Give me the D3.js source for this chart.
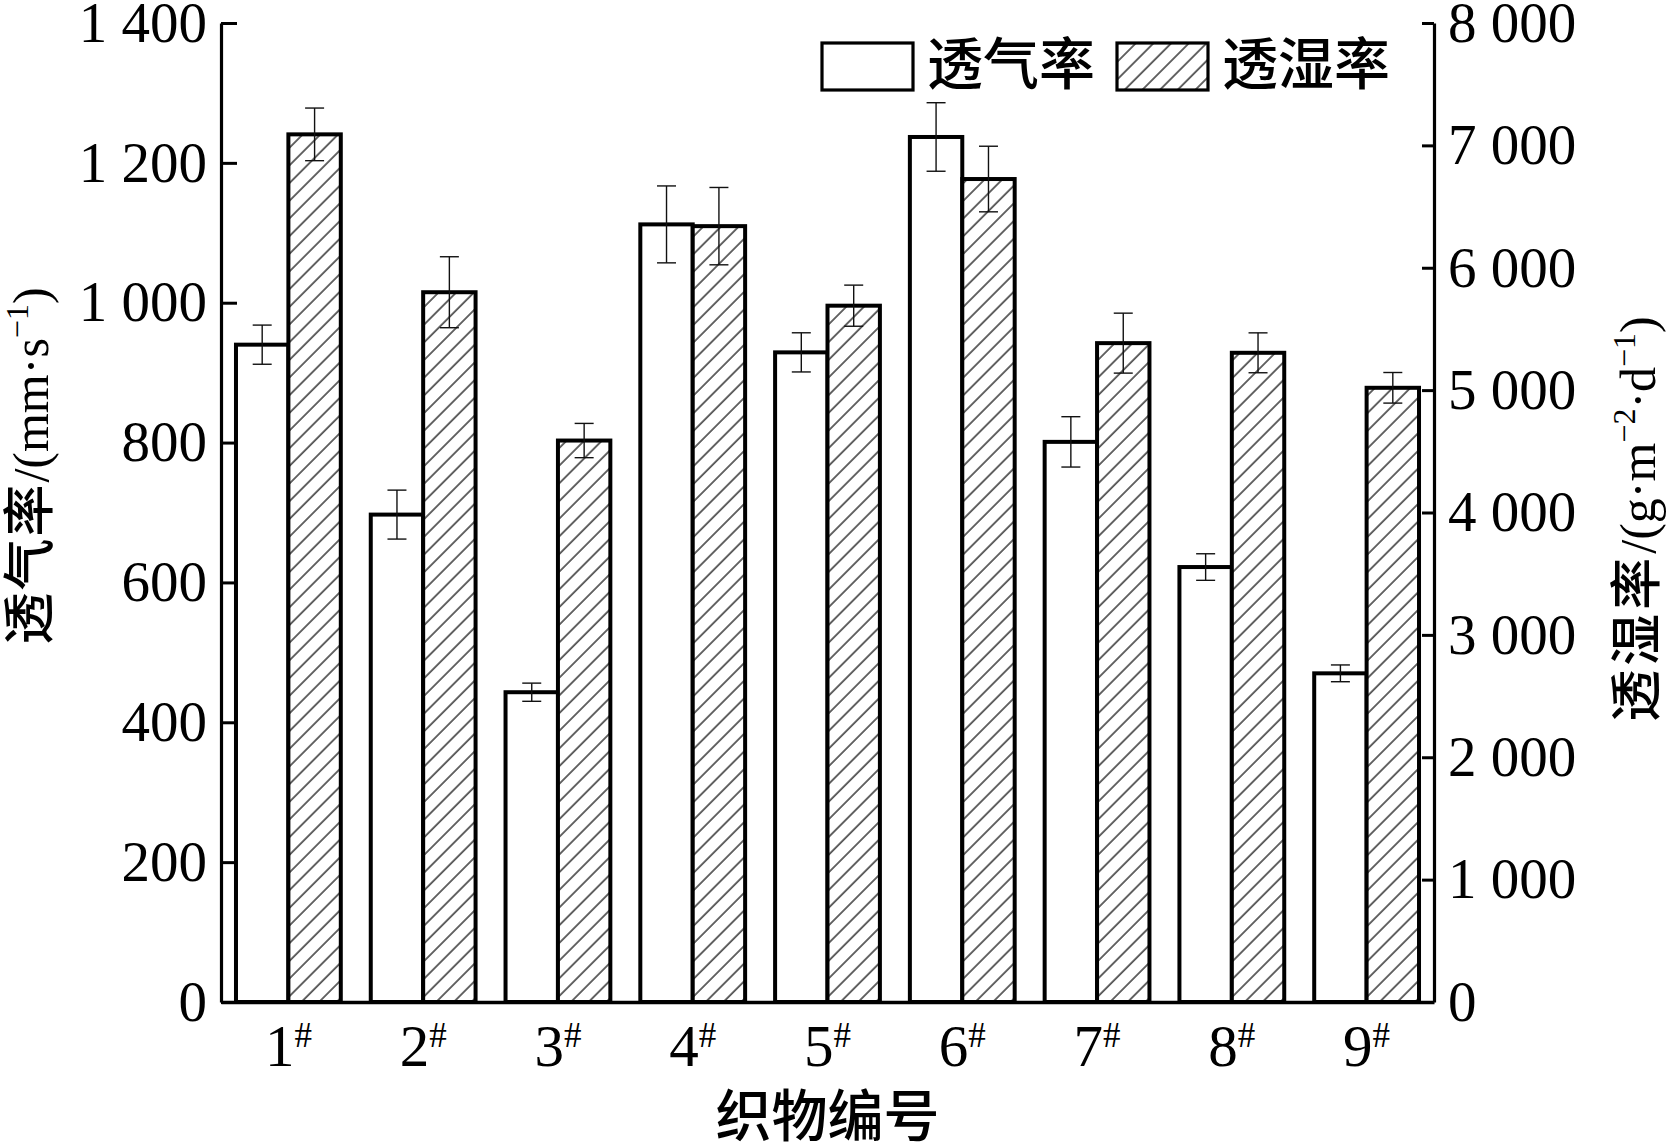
<!DOCTYPE html>
<html>
  <head>
    <meta charset="utf-8">
    <title>透气率与透湿率</title>
    <script src="https://d3js.org/d3.v7.min.js"></script>
    <style>
      body { margin: 0; background: #fff; }
      .num { font-family: "Liberation Serif", "Times New Roman", serif; }
      .cjk { font-family: "Noto Sans CJK SC", sans-serif; font-weight: 500; }
    </style>
  </head>
  <body>
    <div id="chart"></div>
    <script>
      var fabrics = ["1", "2", "3", "4", "5", "6", "7", "8", "9"];
      var airPerm = [940, 697, 443, 1112, 929, 1237, 801, 622, 470];      // mm/s
      var airErr = [28, 35, 13, 55, 28, 49, 36, 19, 12];
      var moistPerm = [7090, 5800, 4588, 6340, 5690, 6725, 5384, 5305, 5019]; // g/(m2·d)
      var moistErr = [215, 290, 140, 316, 168, 268, 245, 163, 125];
      var leftTicks = [0, 200, 400, 600, 800, 1000, 1200, 1400];
      var rightTicks = [0, 1000, 2000, 3000, 4000, 5000, 6000, 7000, 8000];
      var seriesNames = ["透气率", "透湿率"];

      var W = 1668, H = 1144;
      var margin = { top: 23, right: 234, bottom: 142, left: 221 },
          width = W - margin.left - margin.right,
          height = H - margin.top - margin.bottom;

      var svg = d3.select("#chart")
                  .append("svg")
                  .attr("width", W)
                  .attr("height", H);

      // diagonal hatch for the moisture bars
      var pat = svg.append("defs").append("pattern")
         .attr("id", "hatch")
         .attr("patternUnits", "userSpaceOnUse")
         .attr("width", 12.5)
         .attr("height", 12.5)
         .attr("patternTransform", "rotate(45)");
      pat.append("rect").attr("width", 12.5).attr("height", 12.5).attr("fill", "#fff");
      pat.append("line")
         .attr("x1", 1).attr("y1", 0).attr("x2", 1).attr("y2", 12.5)
         .attr("stroke", "#000").attr("stroke-width", 1.2);

      var g = svg.append("g")
                 .attr("transform", "translate(" + margin.left + "," + margin.top + ")");

      // scales
      var x0 = d3.scaleBand()
                 .domain(fabrics)
                 .range([0, width])
                 .paddingInner(0.2224)
                 .paddingOuter(0.1112);
      var x1 = d3.scaleBand()
                 .domain(seriesNames)
                 .range([0, x0.bandwidth()]);
      var yL = d3.scaleLinear().domain([0, 1400]).range([height, 0]);
      var yR = d3.scaleLinear().domain([0, 8000]).range([height, 0]);

      var fmt = function(d) { return d >= 1000 ? d3.format(",")(d).replace(",", " ") : String(d); };

      var rows = fabrics.map(function(f, i) {
        return [
          { fab: f, key: seriesNames[0], v: airPerm[i], e: airErr[i], y: yL },
          { fab: f, key: seriesNames[1], v: moistPerm[i], e: moistErr[i], y: yR }
        ];
      });

      // bars
      var grp = g.selectAll(".grp")
         .data(rows)
         .enter().append("g")
         .attr("class", "grp")
         .attr("transform", function(d) { return "translate(" + x0(d[0].fab) + ",0)"; });

      grp.selectAll("rect")
         .data(function(d) { return d; })
         .enter().append("rect")
         .attr("x", function(d) { return x1(d.key); })
         .attr("width", x1.bandwidth())
         .attr("y", function(d) { return d.y(d.v); })
         .attr("height", function(d) { return height - d.y(d.v); })
         .attr("fill", function(d) { return d.key === seriesNames[0] ? "#fff" : "url(#hatch)"; })
         .attr("stroke", "#000")
         .attr("stroke-width", 4);

      // error bars
      var eb = grp.selectAll(".err")
         .data(function(d) { return d; })
         .enter().append("g")
         .attr("class", "err")
         .attr("stroke", "#111")
         .attr("stroke-width", 1.4);
      var cx = function(d) { return x1(d.key) + x1.bandwidth() / 2; };
      eb.append("line")
        .attr("x1", cx).attr("x2", cx)
        .attr("y1", function(d) { return d.y(d.v + d.e); })
        .attr("y2", function(d) { return d.y(d.v - d.e); });
      eb.append("line")
        .attr("x1", function(d) { return cx(d) - 9.5; })
        .attr("x2", function(d) { return cx(d) + 9.5; })
        .attr("y1", function(d) { return d.y(d.v + d.e); })
        .attr("y2", function(d) { return d.y(d.v + d.e); });
      eb.append("line")
        .attr("x1", function(d) { return cx(d) - 9.5; })
        .attr("x2", function(d) { return cx(d) + 9.5; })
        .attr("y1", function(d) { return d.y(d.v - d.e); })
        .attr("y2", function(d) { return d.y(d.v - d.e); });

      // left axis
      var axL = g.append("g")
         .call(d3.axisLeft(yL).tickValues(leftTicks).tickFormat(fmt)
                 .tickSizeInner(-16).tickSizeOuter(0).tickPadding(14));
      // right axis
      var axR = g.append("g")
         .attr("transform", "translate(" + width + ",0)")
         .call(d3.axisRight(yR).tickValues(rightTicks).tickFormat(fmt)
                 .tickSizeInner(-12).tickSizeOuter(0).tickPadding(14));
      // bottom axis
      var axB = g.append("g")
         .attr("transform", "translate(0," + height + ")")
         .call(d3.axisBottom(x0).tickSize(0).tickSizeOuter(0));

      [axL, axR, axB].forEach(function(a) {
        a.select(".domain").attr("stroke-width", 3.2);
        a.selectAll(".tick line").attr("stroke-width", 3);
        a.selectAll("text")
         .attr("class", "num")
         .style("font-size", "57px")
         .attr("fill", "#000");
      });
      axB.select(".domain").attr("stroke-width", 3.6);

      // x tick labels with superscript #
      axB.selectAll(".tick text")
         .attr("y", 64)
         .attr("dy", 0)
         .style("font-size", "59px")
         .text(null)
         .each(function(d) {
           var t = d3.select(this);
           t.append("tspan").text(d);
           t.append("tspan").attr("dy", -19).style("font-size", "35px").text("#");
         });

      // axis titles
      var leftTitle = svg.append("text")
         .attr("transform", "translate(48,466) rotate(-90)")
         .attr("text-anchor", "middle");
      leftTitle.append("tspan").attr("class", "cjk").style("font-size", "52px")
         .style("letter-spacing", "2px").text("透气率");
      leftTitle.append("tspan").attr("class", "num").style("font-size", "50px").text("/(mm·s");
      leftTitle.append("tspan").attr("class", "num").style("font-size", "32px").attr("dy", -20).text("−1");
      leftTitle.append("tspan").attr("class", "num").style("font-size", "50px").attr("dy", 20).text(")");

      var rightTitle = svg.append("text")
         .attr("transform", "translate(1655,519) rotate(-90)")
         .attr("text-anchor", "middle");
      rightTitle.append("tspan").attr("class", "cjk").style("font-size", "52px")
         .style("letter-spacing", "4px").text("透湿率");
      rightTitle.append("tspan").attr("class", "num").style("font-size", "50px").text("/(g·m");
      rightTitle.append("tspan").attr("class", "num").style("font-size", "32px").attr("dy", -20).text("−2");
      rightTitle.append("tspan").attr("class", "num").style("font-size", "50px").attr("dy", 20).text("·d");
      rightTitle.append("tspan").attr("class", "num").style("font-size", "32px").attr("dy", -20).text("−1");
      rightTitle.append("tspan").attr("class", "num").style("font-size", "50px").attr("dy", 20).text(")");

      svg.append("text")
         .attr("class", "cjk")
         .attr("x", margin.left + width / 2)
         .attr("y", 1136)
         .attr("text-anchor", "middle")
         .style("font-size", "56px")
         .text("织物编号");

      // legend
      var legX = [822, 1117];
      var leg = svg.selectAll(".leg")
         .data(seriesNames)
         .enter().append("g")
         .attr("class", "leg")
         .attr("transform", function(d, i) { return "translate(" + legX[i] + ",43)"; });
      leg.append("rect")
         .attr("width", 91)
         .attr("height", 47)
         .attr("fill", function(d, i) { return i === 0 ? "#fff" : "url(#hatch)"; })
         .attr("stroke", "#000")
         .attr("stroke-width", 3.2);
      leg.append("text")
         .attr("class", "cjk")
         .attr("x", 105)
         .attr("y", 41)
         .style("font-size", "56px")
         .text(function(d) { return d; });
    </script>
  </body>
</html>
